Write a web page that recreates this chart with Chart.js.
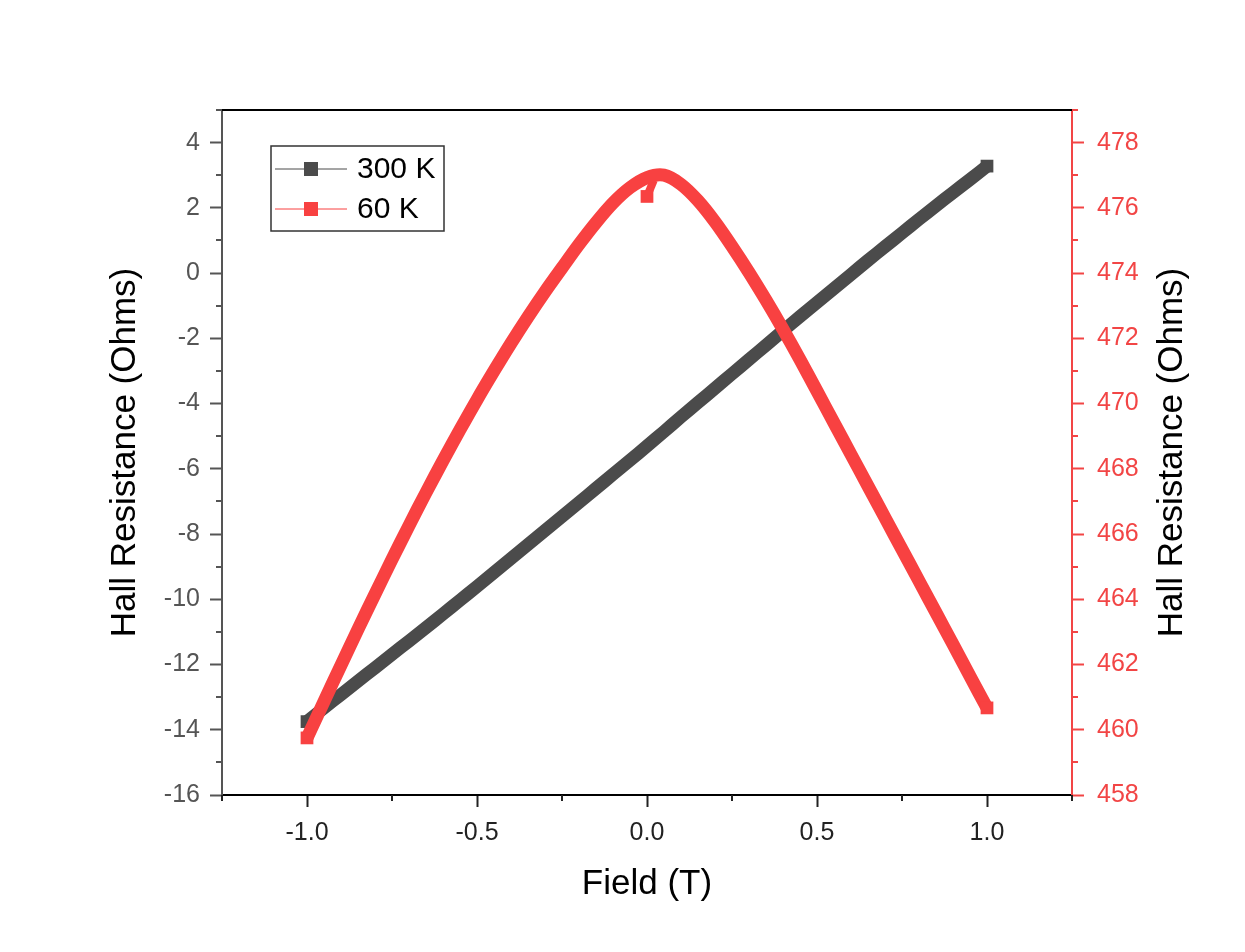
<!DOCTYPE html>
<html>
<head>
  <title>Hall Resistance vs Field</title>
  <script src="https://cdn.jsdelivr.net/npm/chart.js"></script>
<style>
body {
  margin: 0;
  background: #ffffff;
}
</style>
</head>
<body>
  <canvas id="hallChart" width="1245" height="952"></canvas>

  <script>
    // field sweep (T)
    const fieldT = [-1.00, -0.95, -0.90, -0.85, -0.80, -0.75, -0.70, -0.65, -0.60, -0.55,
                    -0.50, -0.45, -0.40, -0.35, -0.30, -0.25, -0.20, -0.15, -0.10, -0.05,
                     0.00,  0.05,  0.10,  0.15,  0.20,  0.25,  0.30,  0.35,  0.40,  0.45,
                     0.50,  0.55,  0.60,  0.65,  0.70,  0.75,  0.80,  0.85,  0.90,  0.95, 1.00];

    // 300 K, left axis (Ohms)
    const hall300K = [-13.75, -13.33, -12.92, -12.51, -12.10, -11.69, -11.28, -10.87, -10.45, -10.03,
                       -9.61,  -9.18,  -8.75,  -8.32,  -7.89,  -7.46,  -7.03,  -6.60,  -6.17,  -5.74,
                       -5.30,  -4.86,  -4.41,  -3.97,  -3.53,  -3.09,  -2.65,  -2.21,  -1.77,  -1.33,
                       -0.90,  -0.47,  -0.04,   0.39,   0.81,   1.23,   1.65,   2.06,   2.47,   2.87, 3.28];

    // 60 K, right axis (Ohms)
    const hall60K = [459.75, 460.87, 461.98, 463.08, 464.16, 465.22, 466.26, 467.27, 468.25, 469.20,
                     470.12, 471.00, 471.85, 472.66, 473.43, 474.16, 474.88, 475.55, 476.15, 476.62,
                     476.93, 477.00, 476.72, 476.22, 475.57, 474.82, 474.02, 473.17, 472.28, 471.35,
                     470.38, 469.41, 468.44, 467.47, 466.50, 465.53, 464.56, 463.59, 462.62, 461.64, 460.67];

    // first points of the 60 K sweep (small notch under the peak)
    const start60KField = [0.00, 0.02];
    const start60KHall = [476.35, 476.85];

    const leftTicks = [-16, -14, -12, -10, -8, -6, -4, -2, 0, 2, 4];
    const rightTicks = [458, 460, 462, 464, 466, 468, 470, 472, 474, 476, 478];
    const fieldTicks = [-1.0, -0.5, 0.0, 0.5, 1.0];

    const GRAY = '#4b4b4b';
    const RED = '#f84141';
    const AXIS_RED = '#f24545';
    const FONT = "'Liberation Sans', Arial, sans-serif";

    function pts(xs, ys) {
      return xs.map((x, i) => ({ x: x, y: ys[i] }));
    }

    // square markers only show at the ends of the dense band
    function endRadius(c) {
      const n = c.dataset.data.length;
      return (c.dataIndex === 0 || c.dataIndex === n - 1) ? 9 : 0;
    }

    // minor ticks, top border, axis titles and legend
    const decorPlugin = {
      id: 'decor',
      afterDraw(chart) {
        const ctx = chart.ctx;
        const a = chart.chartArea;
        const sx = chart.scales.x, sy = chart.scales.y, sr = chart.scales.y1;
        ctx.save();
        ctx.lineWidth = 2;

        // top border
        ctx.strokeStyle = '#000';
        ctx.beginPath();
        ctx.moveTo(a.left - 1, a.top);
        ctx.lineTo(a.right + 1, a.top);
        ctx.stroke();

        // minor ticks
        ctx.strokeStyle = '#222';
        [-1.25, -0.75, -0.25, 0.25, 0.75, 1.25].forEach(v => {
          const px = Math.round(sx.getPixelForValue(v));
          ctx.beginPath(); ctx.moveTo(px, a.bottom); ctx.lineTo(px, a.bottom + 6); ctx.stroke();
        });
        ctx.strokeStyle = '#555';
        for (let v = -15; v <= 5; v += 2) {
          const py = Math.round(sy.getPixelForValue(v));
          ctx.beginPath(); ctx.moveTo(a.left - 6, py); ctx.lineTo(a.left, py); ctx.stroke();
        }
        ctx.strokeStyle = AXIS_RED;
        for (let v = 459; v <= 479; v += 2) {
          const py = Math.round(sr.getPixelForValue(v));
          ctx.beginPath(); ctx.moveTo(a.right, py); ctx.lineTo(a.right + 6, py); ctx.stroke();
        }

        // axis titles
        ctx.fillStyle = '#000';
        ctx.font = '35px ' + FONT;
        ctx.textAlign = 'center';
        ctx.textBaseline = 'middle';
        ctx.fillText('Field (T)', (a.left + a.right) / 2, 884);
        const midY = (a.top + a.bottom) / 2;
        [125, 1172].forEach(cx => {
          ctx.save();
          ctx.translate(cx, midY);
          ctx.rotate(-Math.PI / 2);
          ctx.fillText('Hall Resistance (Ohms)', 0, 0);
          ctx.restore();
        });

        // legend
        ctx.lineWidth = 1.5;
        ctx.strokeStyle = '#333';
        ctx.strokeRect(271, 146, 173, 85);
        const items = [['300 K', GRAY, 169], ['60 K', RED, 209]];
        ctx.font = '30px ' + FONT;
        ctx.textAlign = 'left';
        items.forEach(([label, color, y]) => {
          ctx.strokeStyle = color;
          ctx.lineWidth = 1;
          ctx.beginPath(); ctx.moveTo(275, y); ctx.lineTo(347, y); ctx.stroke();
          ctx.fillStyle = color;
          ctx.fillRect(304, y - 7, 14, 14);
          ctx.fillStyle = '#000';
          ctx.fillText(label, 357, y + 1);
        });
        ctx.restore();
      }
    };

    const ctx = document.getElementById('hallChart').getContext('2d');
    const hallChart = new Chart(ctx, {
      type: 'scatter',
      data: {
        datasets: [
          {
            label: '60 K',
            data: pts(fieldT, hall60K),
            yAxisID: 'y1',
            showLine: true,
            tension: 0.3,
            borderColor: RED,
            backgroundColor: RED,
            borderWidth: 13,
            pointStyle: 'rect',
            pointRadius: endRadius,
            pointBorderWidth: 0,
            order: 0
          },
          {
            label: '60 K start',
            data: pts(start60KField, start60KHall),
            yAxisID: 'y1',
            showLine: true,
            borderColor: RED,
            backgroundColor: RED,
            borderWidth: 8,
            pointStyle: 'rect',
            pointRadius: [9, 0],
            pointBorderWidth: 0,
            order: 0
          },
          {
            label: '300 K',
            data: pts(fieldT, hall300K),
            yAxisID: 'y',
            showLine: true,
            tension: 0.3,
            borderColor: GRAY,
            backgroundColor: GRAY,
            borderWidth: 13,
            pointStyle: 'rect',
            pointRadius: endRadius,
            pointBorderWidth: 0,
            order: 1
          }
        ]
      },
      options: {
        responsive: false,
        animation: false,
        layout: { padding: { top: 110, left: 0, right: 0, bottom: 0 } },
        plugins: {
          legend: { display: false },
          tooltip: { enabled: false }
        },
        scales: {
          x: {
            type: 'linear',
            min: -1.25,
            max: 1.25,
            afterFit: s => { s.height = 157; },
            afterBuildTicks: s => { s.ticks = fieldTicks.map(v => ({ value: v })); },
            ticks: {
              color: '#222',
              font: { family: FONT, size: 25 },
              padding: 11,
              callback: v => Number(v).toFixed(1)
            },
            grid: { drawOnChartArea: false, tickLength: 12, tickColor: '#222', tickWidth: 2 },
            border: { color: '#000', width: 2 }
          },
          y: {
            position: 'left',
            min: -16,
            max: 5,
            afterFit: s => { s.width = 222; },
            afterBuildTicks: s => { s.ticks = leftTicks.map(v => ({ value: v })); },
            ticks: {
              color: '#555',
              font: { family: FONT, size: 25 },
              padding: 10
            },
            grid: { drawOnChartArea: false, tickLength: 12, tickColor: '#555', tickWidth: 2 },
            border: { color: '#555', width: 2 }
          },
          y1: {
            position: 'right',
            min: 458,
            max: 479,
            afterFit: s => { s.width = 173; },
            afterBuildTicks: s => { s.ticks = rightTicks.map(v => ({ value: v })); },
            ticks: {
              color: AXIS_RED,
              font: { family: FONT, size: 25 },
              padding: 13
            },
            grid: { drawOnChartArea: false, tickLength: 12, tickColor: AXIS_RED, tickWidth: 2 },
            border: { color: AXIS_RED, width: 2 }
          }
        }
      },
      plugins: [decorPlugin]
    });
  </script>
</body>
</html>
